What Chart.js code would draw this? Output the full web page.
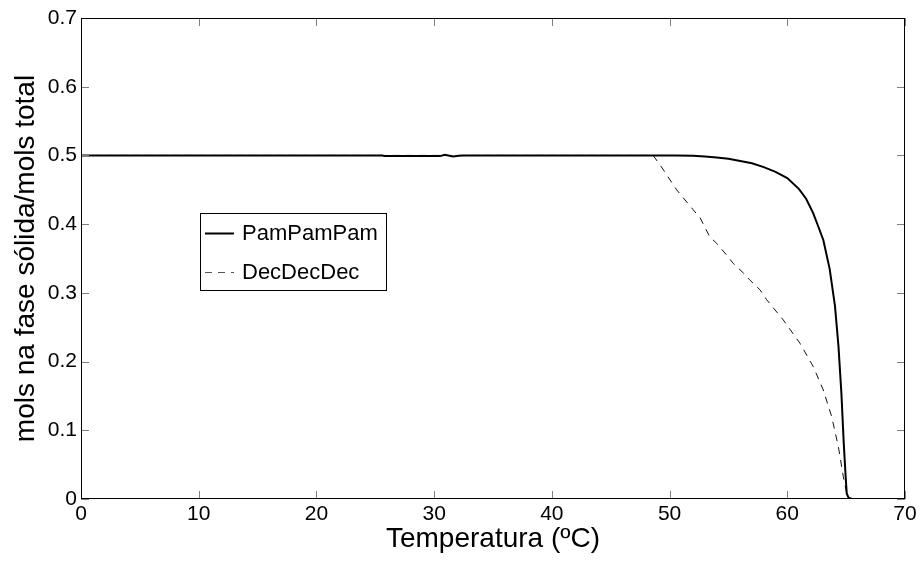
<!DOCTYPE html>
<html>
<head>
<meta charset="utf-8">
<script src="https://cdn.jsdelivr.net/npm/chart.js@4.4.1/dist/chart.umd.min.js"></script>
<style>
html,body{margin:0;padding:0;background:#fff;}
canvas{display:block;}
</style>
</head>
<body>
<canvas id="c" width="922" height="561"></canvas>
<script>
// ---- data ----
const tempPam = [0, 25.6, 25.8, 30.5, 30.9, 31.3, 31.6, 32.1, 32.5, 50.5, 52, 53, 54, 55, 56, 57, 58, 59, 60, 61, 61.6, 62.2, 62.6, 63.06, 63.6, 64.05, 64.35, 64.6, 64.8, 64.95, 65.05, 65.2, 65.5, 70];
const molPam  = [0.5, 0.5, 0.499, 0.499, 0.501, 0.4995, 0.4985, 0.4995, 0.5, 0.5, 0.4995, 0.4985, 0.497, 0.495, 0.492, 0.4885, 0.483, 0.476, 0.467, 0.451, 0.437, 0.416, 0.398, 0.377, 0.335, 0.281, 0.222, 0.153, 0.08, 0.035, 0.008, 0.002, 0, 0];
const tempDec = [0, 48.6, 49.2, 50.6, 52.0, 52.6, 53.4, 54.0, 54.85, 55.4, 56.3, 56.8, 57.7, 58.25, 59.66, 61.08, 62.21, 63.06, 63.77, 64.34, 64.76, 65.05, 65.3, 70];
const molDec  = [0.5, 0.5, 0.486, 0.45, 0.421, 0.409, 0.382, 0.372, 0.355, 0.343, 0.3285, 0.319, 0.304, 0.29, 0.2605, 0.2266, 0.1925, 0.1586, 0.12, 0.076, 0.0325, 0.008, 0, 0];
const seriesNames = ['PamPamPam', 'DecDecDec'];
const xTickValues = [0, 10, 20, 30, 40, 50, 60, 70];
const yTickValues = [0, 0.1, 0.2, 0.3, 0.4, 0.5, 0.6, 0.7];
const xTitle = 'Temperatura (ºC)';
const yTitle = 'mols na fase sólida/mols total';

const FONT = "'Liberation Sans', Arial, Helvetica, sans-serif";

const toPts = (xs, ys) => xs.map((x, i) => ({x: x, y: ys[i]}));

const framePlugin = {
  id: 'frame',
  afterDatasetsDraw(chart) {
    const {ctx, chartArea: a, scales: {x, y}} = chart;
    ctx.save();
    ctx.strokeStyle = '#808080';
    ctx.lineWidth = 1;
    const L = 8;
    ctx.beginPath();
    xTickValues.forEach(v => {
      const px = Math.round(x.getPixelForValue(v)) + 0.5;
      ctx.moveTo(px, a.bottom); ctx.lineTo(px, a.bottom - L);
      ctx.moveTo(px, a.top); ctx.lineTo(px, a.top + L);
    });
    yTickValues.forEach(v => {
      const py = Math.round(y.getPixelForValue(v)) + 0.5;
      ctx.moveTo(a.left, py); ctx.lineTo(a.left + L, py);
      ctx.moveTo(a.right, py); ctx.lineTo(a.right - L, py);
    });
    ctx.stroke();
    ctx.strokeStyle = '#000';
    ctx.lineWidth = 1;
    ctx.strokeRect(a.left + 0.5, a.top + 0.5, a.right - a.left - 1, a.bottom - a.top - 1);
    ctx.restore();
  }
};

const legendPlugin = {
  id: 'boxLegend',
  afterDraw(chart) {
    const {ctx} = chart;
    const bx = 200.5, by = 213.5, bw = 186, bh = 77;
    ctx.save();
    ctx.fillStyle = '#fff';
    ctx.fillRect(bx, by, bw, bh);
    ctx.strokeStyle = '#000';
    ctx.lineWidth = 1;
    ctx.strokeRect(bx, by, bw, bh);
    const rows = [233, 272];
    chart.data.datasets.forEach((ds, i) => {
      const yy = rows[i] + 0.5;
      ctx.beginPath();
      ctx.strokeStyle = i === 0 ? '#000' : '#555';
      ctx.lineWidth = ds.borderWidth;
      ctx.setLineDash(ds.borderDash || []);
      ctx.moveTo(205, yy); ctx.lineTo(234, yy);
      ctx.stroke();
      ctx.setLineDash([]);
      ctx.fillStyle = '#000';
      ctx.font = '22px ' + FONT;
      ctx.textBaseline = 'middle';
      ctx.textAlign = 'left';
      ctx.fillText(ds.label, 242, rows[i] + 1);
    });
    ctx.restore();
  }
};

new Chart(document.getElementById('c'), {
  type: 'line',
  data: {
    datasets: [
      {
        label: seriesNames[0],
        data: toPts(tempPam, molPam),
        borderColor: '#000',
        borderWidth: 2,
        pointRadius: 0,
        tension: 0,
        fill: false,
        order: 0
      },
      {
        label: seriesNames[1],
        data: toPts(tempDec, molDec),
        borderColor: '#111',
        borderWidth: 1,
        borderDash: [7, 6],
        pointRadius: 0,
        tension: 0,
        fill: false,
        order: 1
      }
    ]
  },
  options: {
    responsive: false,
    animation: false,
    devicePixelRatio: 1,
    layout: {padding: {left: 0, top: 18, right: 17, bottom: 0}},
    plugins: {legend: {display: false}, tooltip: {enabled: false}},
    scales: {
      x: {
        type: 'linear',
        min: 0, max: 70,
        afterBuildTicks: s => { s.ticks = xTickValues.map(v => ({value: v})); },
        afterFit: s => { s.height = 62; },
        grid: {display: false, drawTicks: false},
        border: {display: false},
        ticks: {font: {family: FONT, size: 21}, color: '#000', padding: 3, maxRotation: 0},
        title: {display: true, text: xTitle, font: {family: FONT, size: 28}, color: '#000', padding: {top: 0, bottom: 5}}
      },
      y: {
        type: 'linear',
        min: 0, max: 0.7,
        afterBuildTicks: s => { s.ticks = yTickValues.map(v => ({value: v})); },
        afterFit: s => { s.width = 81; },
        grid: {display: false, drawTicks: false},
        border: {display: false},
        ticks: {font: {family: FONT, size: 21}, color: '#000', padding: 4,
          callback: v => String(Math.round(v * 10) / 10)},
        title: {display: true, text: yTitle, font: {family: FONT, size: 28}, color: '#000', padding: {top: 9, bottom: 0}}
      }
    }
  },
  plugins: [framePlugin, legendPlugin]
});
</script>
</body>
</html>
